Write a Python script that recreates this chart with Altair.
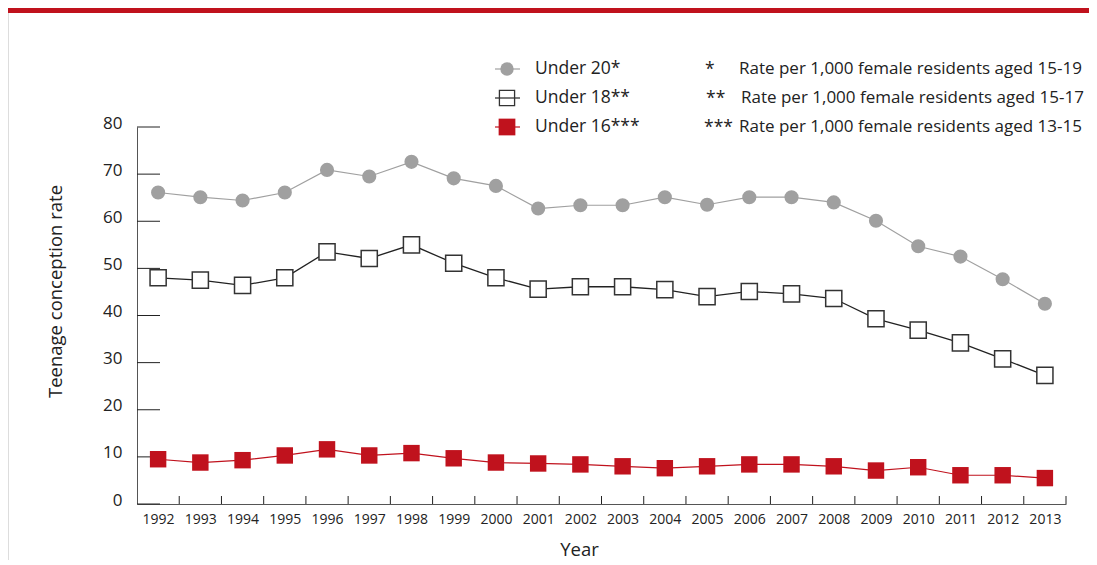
import altair as alt
import pandas as pd

years = list(range(1992, 2014))
under20 = [66.1, 65.1, 64.4, 66.1, 70.9, 69.5, 72.6, 69.1, 67.5, 62.7, 63.4,
           63.4, 65.1, 63.5, 65.1, 65.1, 64.0, 60.1, 54.7, 52.5, 47.7, 42.5]
under18 = [48.0, 47.5, 46.4, 48.0, 53.5, 52.1, 55.0, 51.1, 48.0, 45.6, 46.1,
           46.1, 45.5, 44.0, 45.1, 44.6, 43.6, 39.3, 36.9, 34.2, 30.8, 27.3]
under16 = [9.5, 8.8, 9.3, 10.3, 11.6, 10.3, 10.8, 9.7, 8.8, 8.6, 8.4,
           8.0, 7.6, 8.0, 8.4, 8.4, 8.0, 7.1, 7.8, 6.1, 6.1, 5.5]
y_ticks = [0, 10, 20, 30, 40, 50, 60, 70, 80]

legend_labels = ["Under 20*", "Under 18**", "Under 16***"]
note_stars = ["*", "**", "***"]
note_texts = ["Rate per 1,000 female residents aged 15-19",
              "Rate per 1,000 female residents aged 15-17",
              "Rate per 1,000 female residents aged 13-15"]

RED = "#C0121D"
GRAY = "#a0a0a0"
FONT = "Open Sans"
W, H = 929, 377
PAD_R = 23

df = pd.DataFrame({"Year": years, "u20": under20, "u18": under18, "u16": under16})
ticks_df = pd.DataFrame({"Year": years})
yt_df = pd.DataFrame({"v": y_ticks})

xscale = alt.Scale(domain=[1991.5, 2013.5], nice=False, zero=False)
yscale = alt.Scale(domain=[0, 80], nice=False)

xaxis = alt.Axis(values=years, format="d", title="Year", ticks=False,
                 labelPadding=8, labelFontSize=14, titleFontSize=18.5,
                 titlePadding=14, titleX=442, domainColor="#555", labelColor="#222",
                 titleColor="#222", titleFontWeight="normal",
                 labelFont=FONT, titleFont=FONT, grid=False,
                 labelFlush=False)
yaxis = alt.Axis(values=y_ticks, title="Teenage conception rate",
                 ticks=False, labelPadding=15, labelFontSize=17,
                 titleFontSize=18.5, titlePadding=37, titleY=164,
                 domainColor="#555", labelColor="#222",
                 titleColor="#222", titleFontWeight="normal",
                 labelFont=FONT, titleFont=FONT, grid=False,
                 labelOffset=-4)

base = alt.Chart(df)
X = alt.X("Year:Q", scale=xscale, axis=xaxis)


def Y(field):
    return alt.Y(f"{field}:Q", scale=yscale, axis=yaxis)


layers = []
# lines
layers.append(base.mark_line(color=GRAY, strokeWidth=1.2).encode(x=X, y=Y("u20")))
layers.append(base.mark_line(color="#222", strokeWidth=1.3).encode(x=X, y=Y("u18")))
layers.append(base.mark_line(color=RED, strokeWidth=1.2).encode(x=X, y=Y("u16")))

# custom tick marks (inward)
layers.append(alt.Chart(yt_df).mark_rule(color="#222", strokeWidth=1).encode(
    y=alt.Y("v:Q", scale=yscale, axis=yaxis), x=alt.value(0), x2=alt.value(23)))
layers.append(alt.Chart(ticks_df).transform_calculate(b="datum.Year + 0.5")
              .mark_rule(color="#222", strokeWidth=1).encode(
    x=alt.X("b:Q", scale=xscale, axis=xaxis), y=alt.value(H - 8), y2=alt.value(H)))

# points
layers.append(base.mark_point(shape="circle", filled=True, color=GRAY, size=200, opacity=1)
              .encode(x=X, y=Y("u20")))
layers.append(base.mark_point(shape="square", filled=True, fill="white", stroke="#333",
                              strokeWidth=1.5, size=260, opacity=1)
              .encode(x=X, y=Y("u18")))
layers.append(base.mark_point(shape="square", filled=True, color=RED, size=270, opacity=1)
              .encode(x=X, y=Y("u16")))

# top band and left frame line
dummy = alt.Chart(pd.DataFrame({"a": [0]}))
layers.append(dummy.mark_rect(color=RED).encode(
    x=alt.value(-130), x2=alt.value(W + PAD_R), y=alt.value(-119), y2=alt.value(-114)))
layers.append(dummy.mark_rule(color="#dddddd", strokeWidth=1).encode(
    x=alt.value(-128.5), y=alt.value(-114), y2=alt.value(H + 60)))

# custom legend
row_y = [-58, -29, 0]
sym_colors = [GRAY, "#222", RED]
star_x = [568, 569, 567]
leg_df = pd.DataFrame({"label": legend_labels, "star": note_stars, "note": note_texts})
for i in range(3):
    row = alt.Chart(leg_df).transform_filter(f"datum.label == '{legend_labels[i]}'")
    layers.append(row.mark_rule(color=sym_colors[i], strokeWidth=1.2).encode(
        x=alt.value(358), x2=alt.value(383), y=alt.value(row_y[i])))
    if i == 0:
        sym = row.mark_point(shape="circle", filled=True, color=GRAY, size=180, opacity=1)
    elif i == 1:
        sym = row.mark_point(shape="square", filled=False, stroke="#333",
                             strokeWidth=1.3, size=230, opacity=1)
    else:
        sym = row.mark_point(shape="square", filled=True, color=RED, size=280, opacity=1)
    layers.append(sym.encode(x=alt.value(370), y=alt.value(row_y[i])))
    layers.append(row.mark_text(align="left", baseline="middle", fontSize=17.5,
                                font=FONT, color="#222").encode(
        x=alt.value(398), y=alt.value(row_y[i]), text="label:N"))
    layers.append(row.mark_text(align="left", baseline="middle", fontSize=17.5,
                                font=FONT, color="#222").encode(
        x=alt.value(star_x[i]), y=alt.value(row_y[i] + 1), text="star:N"))
    layers.append(row.mark_text(align="left", baseline="middle", fontSize=17,
                                font=FONT, color="#222").encode(
        x=alt.value(602 + (2 if i == 1 else 0)), y=alt.value(row_y[i]), text="note:N"))

chart = alt.layer(*layers).properties(
    width=W, height=H, autosize="none",
    padding={"left": 129, "top": 119, "right": PAD_R, "bottom": 56},
    background="white",
).configure_view(stroke=None)

chart.save("out.html", embed_options={"renderer": "svg", "actions": False})
